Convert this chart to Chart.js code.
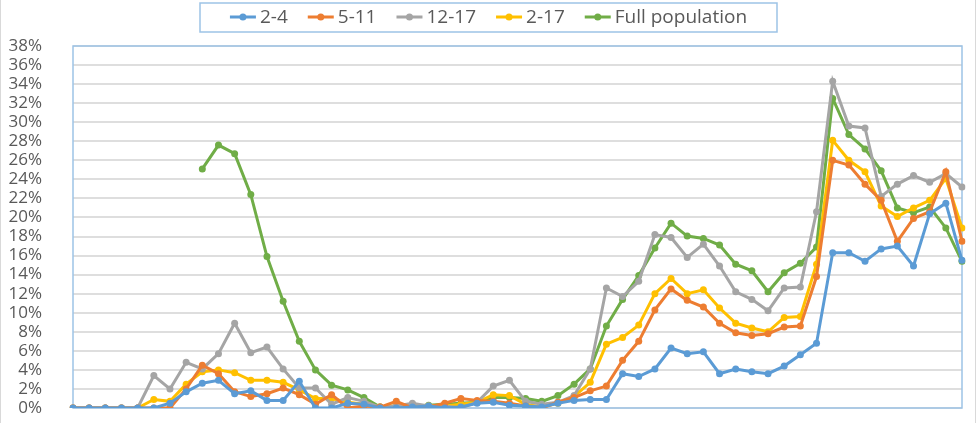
<!DOCTYPE html>
<html>
<head>
<meta charset="utf-8">
<script src="https://cdn.jsdelivr.net/npm/chart.js@4.4.1/dist/chart.umd.min.js"></script>
<style>
    html, body { margin: 0; padding: 0; background: #ffffff; overflow: hidden; }
    canvas { display: block; }
</style>
</head>
<body>
<canvas id="ageChart" width="978" height="423"></canvas>
<script>
// one point per period, no axis labels in the source
const periods = Array.from({ length: 56 }, (_, i) => String(i + 1));

const seriesNames = ["2-4", "5-11", "12-17", "2-17", "Full population"];
const seriesColors = ["#5B9BD5", "#ED7D31", "#A5A5A5", "#FFC000", "#70AD47"];

const yTicks = [0, 2, 4, 6, 8, 10, 12, 14, 16, 18, 20, 22, 24, 26, 28, 30, 32, 34, 36, 38];

const age2to4 = [0, 0, 0, 0, 0, 0, 0.5, 1.7, 2.6, 2.9, 1.5, 1.8, 0.8, 0.8, 2.8, 0, 0, 0.5, 0.4, 0,
    0, 0.1, 0.2, 0, 0.1, 0.5, 0.6, 0.3, 0.2, 0.1, 0.5, 0.8, 0.9, 0.9, 3.6, 3.3, 4.1, 6.3, 5.7, 5.9,
    3.6, 4.1, 3.8, 3.6, 4.4, 5.6, 6.8, 16.3, 16.3, 15.4, 16.7, 17.0, 14.9, 20.4, 21.5, 15.5];

const age5to11 = [0, 0, 0, 0, 0, 0, 0, 2.0, 4.5, 3.6, 1.7, 1.2, 1.5, 2.1, 1.4, 0.4, 1.4, 0, 0.2, 0.1,
    0.7, 0, 0.1, 0.5, 1.0, 0.8, 0.7, 0.5, 0.2, 0, 0.6, 1.1, 1.8, 2.3, 5.0, 7.0, 10.3, 12.5, 11.3, 10.6,
    8.9, 7.9, 7.6, 7.8, 8.5, 8.6, 13.8, 26.0, 25.5, 23.5, 21.8, 17.5, 19.9, 20.6, 24.8, 17.5];

const age12to17 = [0, 0, 0, 0, 0, 3.4, 2.0, 4.8, 4.1, 5.7, 8.9, 5.8, 6.4, 4.1, 2.1, 2.1, 0.4, 1.1, 0.7, 0.1,
    0.2, 0.5, 0.2, 0.2, 0, 0.6, 2.3, 2.9, 0.7, 0.4, 0.6, 1.3, 4.1, 12.6, 11.7, 13.3, 18.2, 17.9, 15.8, 17.2,
    14.9, 12.2, 11.4, 10.2, 12.6, 12.7, 20.6, 34.3, 29.6, 29.4, 22.2, 23.5, 24.4, 23.7, 24.6, 23.2];

const age2to17 = [0, 0, 0, 0, 0, 0.9, 0.7, 2.5, 3.8, 4.0, 3.7, 2.9, 2.9, 2.7, 1.9, 1.0, 1.0, 0.6, 0.4, 0.1,
    0.2, 0.2, 0.2, 0.2, 0.4, 0.6, 1.4, 1.3, 0.4, 0.1, 0.5, 1.2, 2.7, 6.7, 7.4, 8.7, 12.0, 13.6, 12.0, 12.4,
    10.5, 8.9, 8.4, 8.0, 9.5, 9.6, 15.1, 28.1, 26.0, 24.8, 21.2, 20.1, 21.0, 21.8, 24.1, 18.9];

const fullPopulation = [null, null, null, null, null, null, null, null, 25.1, 27.6, 26.7, 22.4, 15.9, 11.2, 7.0, 4.0, 2.4, 1.9, 1.1, 0.1,
    0.2, 0.2, 0.3, 0.4, 0.5, 0.6, 1.1, 1.1, 1.0, 0.7, 1.3, 2.5, 4.1, 8.6, 11.4, 13.9, 16.8, 19.4, 18.05, 17.8,
    17.1, 15.1, 14.4, 12.2, 14.2, 15.2, 16.9, 32.5, 28.7, 27.2, 24.9, 21.0, 20.5, 21.1, 18.9, 15.4];

const seriesValues = [age2to4, age5to11, age12to17, age2to17, fullPopulation];

const textColor = "#595959";
const fontFamily = "'Open Sans', 'Liberation Sans', sans-serif";

// plot frame (light blue box) and outer chart frame
const framePlugin = {
    id: "frame",
    beforeDatasetsDraw(chart) {
        const { ctx, chartArea } = chart;
        ctx.save();
        ctx.strokeStyle = "#9DC3E6";
        ctx.lineWidth = 1.5;
        ctx.strokeRect(chartArea.left, chartArea.top, chartArea.right - chartArea.left, chartArea.bottom - chartArea.top);
        ctx.restore();
    },
    afterDraw(chart) {
        const { ctx } = chart;
        ctx.save();
        ctx.strokeStyle = "#d9d9d9";
        ctx.lineWidth = 1;
        ctx.beginPath();
        ctx.moveTo(0.5, 0);
        ctx.lineTo(0.5, chart.height);
        ctx.moveTo(975.5, 0);
        ctx.lineTo(975.5, chart.height);
        ctx.stroke();
        ctx.restore();
    }
};

// Excel style legend: line + dot marker, box around it
const legendPlugin = {
    id: "boxLegend",
    afterDraw(chart) {
        const { ctx } = chart;
        const markerW = 26;
        const gapText = 4;
        const gapItem = 20;
        ctx.save();
        ctx.font = "19px " + fontFamily;
        ctx.textBaseline = "middle";
        const widths = chart.data.datasets.map((ds) => ctx.measureText(ds.label).width);
        const total = widths.reduce((s, w) => s + markerW + gapText + w, 0) + gapItem * (widths.length - 1);
        const cx = 488.5;
        const y = 17;
        let x = cx - total / 2;

        ctx.strokeStyle = "#9DC3E6";
        ctx.lineWidth = 1.5;
        ctx.strokeRect(200, 3, 577, 29);

        chart.data.datasets.forEach((ds, i) => {
            ctx.strokeStyle = ds.borderColor;
            ctx.lineWidth = 3;
            ctx.beginPath();
            ctx.moveTo(x, y);
            ctx.lineTo(x + markerW, y);
            ctx.stroke();
            ctx.fillStyle = ds.borderColor;
            ctx.beginPath();
            ctx.arc(x + markerW / 2, y, 3.5, 0, Math.PI * 2);
            ctx.fill();
            ctx.fillStyle = textColor;
            ctx.fillText(ds.label, x + markerW + gapText, y + 1);
            x += markerW + gapText + widths[i] + gapItem;
        });
        ctx.restore();
    }
};

new Chart(document.getElementById("ageChart"), {
    type: "line",
    data: {
        labels: periods,
        datasets: seriesNames.map((name, i) => ({
            label: name,
            data: seriesValues[i],
            borderColor: seriesColors[i],
            backgroundColor: seriesColors[i],
            borderWidth: 3,
            pointRadius: 3.5,
            pointHoverRadius: 3.5,
            pointBorderWidth: 0,
            tension: 0,
            spanGaps: false
        }))
    },
    options: {
        responsive: false,
        animation: false,
        events: [],
        layout: {
            padding: { top: 46, right: 16, bottom: 15, left: 0 }
        },
        scales: {
            x: {
                display: false,
                offset: false
            },
            y: {
                min: 0,
                max: 38,
                afterBuildTicks: (axis) => {
                    axis.ticks = yTicks.map((v) => ({ value: v }));
                },
                afterFit: (axis) => {
                    // fixed label gutter; tick padding must not push the plot edges
                    axis.width = 73;
                    axis.paddingTop = 10;
                    axis.paddingBottom = 10;
                },
                grid: {
                    color: "#dedede",
                    lineWidth: 2,
                    drawTicks: false
                },
                border: { display: false },
                ticks: {
                    autoSkip: false,
                    padding: 31,
                    color: textColor,
                    font: { family: fontFamily, size: 17 },
                    callback: (v) => v + "%"
                }
            }
        },
        plugins: {
            legend: { display: false },
            tooltip: { enabled: false }
        }
    },
    plugins: [framePlugin, legendPlugin]
});
</script>
</body>
</html>
